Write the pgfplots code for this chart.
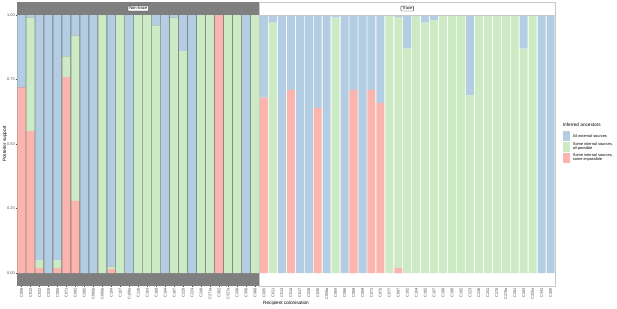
\documentclass[border=0pt]{standalone}
\usepackage{pgfplots}
\pgfplotsset{compat=1.18}
\usepackage{pgfplotstable}
\usepackage{fontspec}
\setmainfont{Liberation Sans}
\definecolor{pblue}{HTML}{B3CDE3}
\definecolor{pgreen}{HTML}{CCEBC5}
\definecolor{pred}{HTML}{FBB4AE}
\definecolor{panelgrey}{HTML}{7F7F7F}
\definecolor{txtgrey}{HTML}{4D4D4D}
\definecolor{bordergrey}{HTML}{C8C8C8}

\pgfplotstableread{
x r g b
1 0.72 0.00 0.28
2 0.55 0.44 0.01
3 0.02 0.03 0.95
4 0.00 0.00 1.00
5 0.02 0.03 0.95
6 0.76 0.08 0.16
7 0.28 0.64 0.08
8 0.00 0.00 1.00
9 0.00 0.00 1.00
10 0.00 1.00 0.00
11 0.015 0.01 0.975
12 0.00 1.00 0.00
13 0.00 0.00 1.00
14 0.00 1.00 0.00
15 0.00 1.00 0.00
16 0.00 0.96 0.04
17 0.00 0.00 1.00
18 0.00 0.99 0.01
19 0.00 0.86 0.14
20 0.00 0.00 1.00
21 0.00 1.00 0.00
22 0.00 1.00 0.00
23 1.00 0.00 0.00
24 0.00 1.00 0.00
25 0.00 1.00 0.00
26 0.00 0.00 1.00
27 0.00 1.00 0.00
}\nontrace

\pgfplotstableread{
x r g b
1 0.68 0.00 0.32
2 0.00 0.97 0.03
3 0.00 0.00 1.00
4 0.71 0.00 0.29
5 0.00 0.00 1.00
6 0.00 0.00 1.00
7 0.64 0.00 0.36
8 0.00 0.00 1.00
9 0.00 0.99 0.01
10 0.00 0.00 1.00
11 0.71 0.00 0.29
12 0.00 0.00 1.00
13 0.71 0.00 0.29
14 0.66 0.00 0.34
15 0.00 1.00 0.00
16 0.02 0.97 0.01
17 0.00 0.87 0.13
18 0.00 1.00 0.00
19 0.00 0.97 0.03
20 0.00 0.98 0.02
21 0.00 1.00 0.00
22 0.00 1.00 0.00
23 0.00 1.00 0.00
24 0.00 0.69 0.31
25 0.00 1.00 0.00
26 0.00 1.00 0.00
27 0.00 1.00 0.00
28 0.00 1.00 0.00
29 0.00 1.00 0.00
30 0.00 0.87 0.13
31 0.00 1.00 0.00
32 0.00 0.00 1.00
33 0.00 0.00 1.00
}\trace

\newcommand\tinyfont{\fontsize{3.9}{4.3}\selectfont}
\newcommand\stripfont{\fontsize{4.1}{4.5}\selectfont}
\newcommand\midfont{\fontsize{4.7}{5.3}\selectfont}

\pgfplotsset{panel/.style={
  scale only axis, height=271pt, ymin=-0.05, ymax=1,
  enlargelimits=false,
  ybar stacked, bar width=0.9,
  tick pos=left, tick align=outside, major tick length=1.2pt,
  tick style={draw=txtgrey, line width=0.3pt},
  x tick label style={font=\tinyfont, text=txtgrey, rotate=90, anchor=east, inner sep=0.6pt},
  y tick label style={font=\tinyfont, text=txtgrey, inner sep=0.8pt},
  anchor=south west,
}}

\begin{document}
\begin{tikzpicture}[x=1pt,y=1pt]
\useasboundingbox (0,0) rectangle (617,308);

\begin{axis}[panel, at={(17pt,22pt)}, width=242.5pt,
  xmin=0.5, xmax=27.5,
  axis background/.style={fill=panelgrey},
  axis line style={draw=none},
  xtick={1,...,27},
  xticklabels={C008,C012,C022,C028,C065,C071,C082,C085,C085b,C095b,C104,C107,C108a,C116,C163,C168,C184,C187,C220,C224,C248,C271a,C302,C327a,C338,C358,C366},
  ytick={0,0.25,0.5,0.75,1},
  yticklabels={0.00,0.25,0.50,0.75,1.00},
]
\addplot[fill=pred, draw=none] table[x=x, y=r] {\nontrace};
\addplot[fill=pgreen, draw=none] table[x=x, y=g] {\nontrace};
\addplot[fill=pblue, draw=none] table[x=x, y=b] {\nontrace};
\end{axis}

\begin{axis}[panel, at={(259.5pt,22pt)}, width=295.5pt,
  xmin=0.5, xmax=33.5,
  axis line style={draw=bordergrey, line width=0.4pt},
  xtick={1,...,33},
  xticklabels={C005,C011,C013,C014,C017,C028,C030,C059a,C064,C066,C068,C069,C071,C075,C077,C087,C102,C104,C105,C107,C108,C190,C192,C223,C236,C241,C275,C279a,C281,C283,C325a,C341,C350},
  ytick=\empty,
]
\addplot[fill=pred, draw=none] table[x=x, y=r] {\trace};
\addplot[fill=pgreen, draw=none] table[x=x, y=g] {\trace};
\addplot[fill=pblue, draw=none] table[x=x, y=b] {\trace};
\end{axis}

% strips
\fill[panelgrey] (17,293) rectangle (259.5,306);
\draw[bordergrey, line width=0.4pt, fill=white] (259.5,293) rectangle (555,306);
\node[draw=black!80, line width=0.3pt, fill=white, rounded corners=0.6pt, inner xsep=1.2pt, inner ysep=1pt, font=\stripfont] at (138.25,299.5) {Non-trace};
\node[draw=black!80, line width=0.3pt, fill=white, rounded corners=0.6pt, inner xsep=1.2pt, inner ysep=1pt, font=\stripfont] at (407.25,299.5) {Trace};

% axis titles
\node[rotate=90, font=\midfont] at (5,164) {Posterior support};
\node[font=\midfont] at (286,5) {Recipient colonisation};

% legend
\node[anchor=base west, font=\midfont, inner sep=0pt] at (562.7,181) {Inferred ancestors};
\fill[pblue] (562.7,167.3) rectangle (570,177.3);
\fill[pgreen] (562.7,156.3) rectangle (570,166.3);
\fill[pred] (562.7,145.3) rectangle (570,155.3);
\node[anchor=west, font=\tinyfont, inner sep=0pt, align=left] at (572.7,172.3) {All external sources};
\node[anchor=west, font=\tinyfont, inner sep=0pt, align=left] at (572.7,161.3) {Some internal sources,\\all possible};
\node[anchor=west, font=\tinyfont, inner sep=0pt, align=left] at (572.7,150.3) {Some internal sources,\\some impossible};
\end{tikzpicture}
\end{document}
